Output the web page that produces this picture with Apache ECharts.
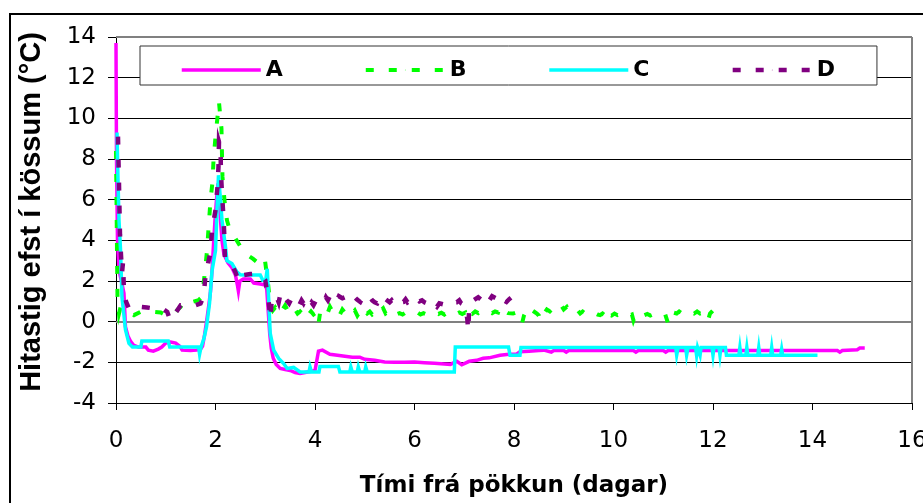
<!DOCTYPE html>
<html>
<head>
<meta charset="utf-8">
<script src="https://cdn.jsdelivr.net/npm/echarts@6/dist/echarts.min.js"></script>
<style>
  html, body { margin: 0; padding: 0; background: #fff; }
  #chart { width: 923px; height: 503px; }
</style>
</head>
<body>
<div id="chart"></div>
<script>
// Temperature at top of boxes after packing, four loggers (days, °C)
const seriesNames = ['A', 'B', 'C', 'D'];
const xTicks = { min: 0, max: 16, step: 2 };
const yTicks = { min: -4, max: 14, step: 2 };

const tempA = [
  [0, 13.7], [0.01, 8.0], [0.03, 4.0], [0.06, 2.5], [0.1, 2.1], [0.16, 1.4], [0.19, -0.25], [0.24, -0.7],
  [0.29, -0.95], [0.35, -1.15], [0.45, -1.25], [0.6, -1.25], [0.65, -1.4], [0.75, -1.45], [0.85, -1.35],
  [0.92, -1.25], [1.0, -1.05], [1.1, -1.0], [1.2, -1.05], [1.28, -1.2], [1.33, -1.4], [1.5, -1.42],
  [1.62, -1.4], [1.7, -1.35], [1.74, -1.2], [1.78, -0.65], [1.82, 0], [1.87, 0.9], [1.9, 1.5], [1.93, 2.5],
  [1.96, 3.8], [1.99, 5.0], [2.02, 6.0], [2.05, 6.8], [2.08, 6.0], [2.1, 5.0], [2.13, 4.0], [2.17, 3.3],
  [2.25, 2.9], [2.33, 2.65], [2.4, 2.3], [2.44, 1.8], [2.46, 1.5], [2.49, 2.0], [2.56, 2.1], [2.7, 2.1],
  [2.77, 1.9], [2.9, 1.85], [3.0, 1.8], [3.03, 1.6], [3.06, 0.5], [3.09, -0.6], [3.12, -1.3], [3.16, -1.8],
  [3.22, -2.1], [3.3, -2.3], [3.4, -2.35], [3.5, -2.4], [3.6, -2.5], [3.7, -2.55], [3.8, -2.5], [3.9, -2.45],
  [4.0, -2.4], [4.04, -2.4], [4.07, -1.45], [4.15, -1.4], [4.3, -1.6], [4.45, -1.65], [4.6, -1.7],
  [4.75, -1.75], [4.9, -1.75], [5.0, -1.85], [5.2, -1.9], [5.4, -1.98], [5.6, -2.0], [5.8, -2.0],
  [6.0, -1.98], [6.2, -2.02], [6.4, -2.05], [6.6, -2.08], [6.72, -2.1], [6.85, -1.95], [6.95, -2.12],
  [7.1, -1.95], [7.25, -1.9], [7.38, -1.8], [7.5, -1.78], [7.72, -1.65], [7.9, -1.6], [8.05, -1.6],
  [8.12, -1.48], [8.3, -1.45], [8.5, -1.42], [8.6, -1.4], [8.75, -1.5], [8.8, -1.42], [9.0, -1.42],
  [9.05, -1.5], [9.1, -1.42], [10.4, -1.42], [10.45, -1.5], [10.5, -1.42], [11.0, -1.42], [11.05, -1.5],
  [11.1, -1.42], [14.5, -1.42], [14.55, -1.5], [14.6, -1.42], [14.9, -1.38], [14.95, -1.3], [15.05, -1.3]
];

const tempB = [
  [0, 8.4], [0.01, 6.0], [0.02, 3.5], [0.03, 1.2], [0.06, 0.4], [0.09, 0.7], [0.12, 0.73], [0.17, 0.5],
  [0.25, 0.45], [0.36, 0.32], [0.49, 0.48], [0.62, 0.5], [0.76, 0.48], [0.9, 0.45], [1.0, 0.32],
  [1.13, 0.32], [1.23, 0.57], [1.3, 0.73], [1.4, 1.06], [1.53, 0.97], [1.66, 1.06], [1.73, 1.22],
  [1.78, 2.29], [1.83, 3.5], [1.86, 4.6], [1.9, 5.98], [1.94, 6.88], [1.96, 7.94], [2.0, 9.09],
  [2.05, 10.3], [2.07, 10.8], [2.1, 10.0], [2.12, 9.5], [2.13, 8.27], [2.14, 7.12], [2.18, 5.98],
  [2.23, 4.99], [2.3, 4.4], [2.4, 4.1], [2.5, 3.7], [2.63, 3.3], [2.75, 3.1], [2.85, 2.9], [2.93, 2.86],
  [2.99, 3.1], [3.03, 3.1], [3.06, 1.8],
  [3.1, 0.8], [3.15, 0.55], [3.2, 0.7], [3.25, 0.5], [3.3, 0.75], [3.35, 0.6], [3.4, 0.8], [3.45, 0.55],
  [3.5, 0.65], [3.55, 0.45], [3.6, 0.6], [3.65, 0.4], [3.7, 0.5], [3.77, 0.32], [3.82, 0.55], [3.87, 0.35],
  [3.92, 0.5], [3.97, 0.35], [4.02, 0.45], [4.07, -0.1], [4.1, 0.4], [4.15, 0.3], [4.2, 0.55], [4.25, 0.4],
  [4.3, 0.73], [4.35, 0.5], [4.4, 0.4], [4.45, 0.55], [4.5, 0.35], [4.55, 0.6], [4.6, 0.45], [4.65, 0.5],
  [4.7, 0.6], [4.75, 0.4], [4.8, 0.55], [4.85, 0.3], [4.9, 0.5], [4.95, 0.35], [5.0, 0.55], [5.05, 0.4],
  [5.1, 0.5], [5.15, 0.35], [5.2, 0.45], [5.25, 0.3], [5.3, 0.5], [5.37, 0.66], [5.42, 0.4], [5.48, 0.5],
  [5.53, 0.35], [5.58, 0.45], [5.63, 0.35], [5.7, 0.42], [5.76, 0.35], [5.82, 0.45], [5.88, 0.38],
  [5.95, 0.45], [6.0, 0.38], [6.06, 0.45], [6.12, 0.35], [6.18, 0.42], [6.24, 0.36], [6.3, 0.43],
  [6.36, 0.35], [6.42, 0.45], [6.48, 0.38], [6.54, 0.44], [6.6, 0.35], [6.66, 0.45], [6.72, 0.4],
  [6.78, 0.5], [6.84, 0.38], [6.9, 0.45], [6.96, 0.38], [7.02, 0.45], [7.05, 0.17], [7.1, 0.45],
  [7.16, 0.38], [7.22, 0.5], [7.28, 0.42], [7.34, 0.55], [7.38, 0.57], [7.44, 0.45], [7.5, 0.5],
  [7.56, 0.42], [7.62, 0.5], [7.68, 0.45], [7.72, 0.73], [7.76, 0.55], [7.82, 0.5], [7.88, 0.42],
  [7.92, 0.48], [7.98, 0.4], [8.04, 0.45], [8.08, 0.32], [8.12, 0.35], [8.16, -0.1], [8.2, 0.3],
  [8.25, 0.55], [8.29, 0.73], [8.34, 0.6], [8.4, 0.5], [8.46, 0.4], [8.5, 0.3], [8.52, 0.07], [8.56, 0.35],
  [8.62, 0.45], [8.66, 0.6], [8.72, 0.5], [8.78, 0.65], [8.84, 0.55], [8.9, 0.7], [8.95, 0.8], [9.0, 0.6],
  [9.06, 0.73], [9.1, 0.55], [9.16, 0.62], [9.22, 0.48], [9.28, 0.55], [9.33, 0.4], [9.38, 0.5],
  [9.44, 0.38], [9.5, 0.45], [9.56, 0.35], [9.62, 0.42], [9.68, 0.35], [9.73, 0.32], [9.78, 0.4],
  [9.83, 0.3], [9.86, 0.07], [9.9, 0.35], [9.96, 0.3], [10.02, 0.4], [10.08, 0.32], [10.14, 0.38],
  [10.2, 0.32], [10.26, 0.4], [10.32, 0.3], [10.37, 0.35], [10.4, 0.07], [10.44, 0.35], [10.5, 0.3],
  [10.56, 0.4], [10.62, 0.32], [10.68, 0.38], [10.74, 0.3], [10.8, 0.36], [10.86, 0.3], [10.92, 0.38],
  [10.98, 0.3], [11.04, 0.35], [11.1, -0.1], [11.14, 0.3], [11.2, 0.45], [11.27, 0.4], [11.32, 0.5],
  [11.38, 0.4], [11.44, 0.48], [11.5, 0.4], [11.56, 0.48], [11.62, 0.4], [11.68, 0.5], [11.74, 0.4],
  [11.8, 0.45], [11.86, 0.35], [11.9, 0.07], [11.94, 0.4], [11.98, 0.5], [12.02, 0.45], [12.04, 0.65],
  [12.07, 0.75]
];

const tempC = [
  [0.02, 9.3], [0.04, 7.0], [0.06, 5.0], [0.09, 3.6], [0.12, 1.2], [0.16, 0.3], [0.19, -0.4], [0.26, -1.07],
  [0.33, -1.24], [0.5, -1.24], [0.52, -0.95], [1.05, -0.95], [1.08, -1.24], [1.66, -1.24], [1.68, -1.6],
  [1.71, -1.24], [1.77, -0.8], [1.82, -0.25], [1.88, 0.9], [1.93, 2.5], [2.0, 3.5], [2.03, 5.5], [2.06, 7.2],
  [2.1, 6.0], [2.13, 5.0], [2.2, 3.7], [2.23, 3.0], [2.33, 2.86], [2.43, 2.45], [2.5, 2.3], [2.57, 2.29],
  [2.9, 2.29], [2.95, 2.04], [3.01, 2.04], [3.04, 2.6], [3.07, 1.06], [3.1, -0.58], [3.17, -1.4],
  [3.27, -1.81], [3.37, -2.06], [3.44, -2.3], [3.57, -2.25], [3.7, -2.47], [3.88, -2.47], [3.9, -2.22],
  [3.93, -2.47], [4.08, -2.47], [4.1, -2.2], [4.47, -2.2], [4.5, -2.47], [4.7, -2.47], [4.72, -2.22],
  [4.75, -2.47], [4.85, -2.47], [4.87, -2.22], [4.9, -2.47], [5.0, -2.47], [5.02, -2.22], [5.05, -2.47],
  [6.8, -2.47], [6.82, -1.24], [7.89, -1.24], [7.92, -1.65], [8.12, -1.65], [8.14, -1.27], [11.25, -1.27],
  [11.27, -1.65], [11.3, -1.27], [11.45, -1.27], [11.47, -1.65], [11.5, -1.27], [11.65, -1.27],
  [11.67, -1.65], [11.69, -1.27], [11.72, -1.27], [11.74, -1.65], [11.76, -1.27], [11.98, -1.27],
  [12.0, -1.65], [12.02, -1.27], [12.12, -1.27], [12.14, -1.65], [12.16, -1.27], [12.25, -1.27],
  [12.27, -1.65], [12.52, -1.65], [12.54, -1.27], [12.56, -1.65], [12.66, -1.65], [12.68, -1.27],
  [12.7, -1.65], [12.9, -1.65], [12.92, -1.27], [12.94, -1.65], [13.16, -1.65], [13.18, -1.27],
  [13.2, -1.65], [13.36, -1.65], [13.38, -1.35], [13.4, -1.65], [14.1, -1.65]
];

const tempD = [
  [0.04, 9.1], [0.05, 7.9], [0.06, 6.8], [0.07, 5.5], [0.08, 4.3], [0.1, 3.3], [0.12, 2.4], [0.14, 2.9],
  [0.16, 1.55], [0.2, 1.0], [0.26, 0.65], [0.36, 0.57], [0.49, 0.73], [0.62, 0.7], [0.76, 0.65],
  [0.93, 0.65], [1.03, 0.48], [1.09, 0.07], [1.19, 0.4], [1.3, 0.81], [1.43, 0.81], [1.6, 0.81], [1.7, 0.9],
  [1.76, 1.22], [1.8, 2.29], [1.9, 3.43], [1.93, 4.5], [2.0, 5.48], [2.04, 6.63], [2.06, 7.62], [2.07, 8.85],
  [2.1, 8.6], [2.11, 7.3], [2.13, 6.3], [2.16, 5.15], [2.18, 4.09], [2.19, 3.1], [2.23, 3.0], [2.33, 2.78],
  [2.4, 2.45], [2.47, 1.96], [2.57, 2.29], [2.7, 2.34], [2.84, 2.37], [2.95, 2.2], [3.0, 2.04], [3.07, 0.97],
  [3.1, 0.16], [3.13, 1.0], [3.17, 1.06], [3.2, 0.85], [3.24, 1.15], [3.27, 0.95], [3.3, 1.3], [3.33, 1.0],
  [3.37, 0.97], [3.4, 1.15], [3.44, 1.06], [3.48, 0.9], [3.52, 1.1], [3.57, 1.22], [3.61, 0.95], [3.65, 1.0],
  [3.69, 0.85], [3.73, 1.05], [3.77, 0.9], [3.81, 1.1], [3.85, 1.05], [3.89, 0.8], [3.93, 0.95],
  [3.97, 0.81], [4.01, 1.0], [4.05, 0.95], [4.09, 1.1], [4.14, 1.06], [4.18, 0.95], [4.22, 1.2],
  [4.26, 1.05], [4.31, 1.3], [4.35, 1.15], [4.4, 1.2], [4.44, 1.05], [4.48, 1.25], [4.51, 1.3], [4.55, 1.15],
  [4.6, 1.2], [4.64, 1.1], [4.68, 1.3], [4.71, 1.39], [4.75, 1.25], [4.8, 1.2], [4.84, 1.1], [4.88, 1.05],
  [4.91, 0.97], [4.95, 1.15], [4.98, 1.1], [5.01, 1.25], [5.04, 1.22], [5.08, 1.05], [5.12, 1.15],
  [5.15, 1.05], [5.2, 0.95], [5.25, 0.9], [5.28, 1.05], [5.32, 1.15], [5.35, 1.3], [5.38, 1.39],
  [5.42, 1.1], [5.46, 1.1], [5.5, 0.95], [5.54, 1.05], [5.58, 0.9], [5.62, 1.05], [5.68, 1.05],
  [5.72, 0.95], [5.78, 0.97], [5.82, 1.1], [5.86, 0.95], [5.9, 1.0], [5.95, 1.1], [6.0, 1.0], [6.05, 1.14],
  [6.1, 1.0], [6.15, 1.05], [6.2, 0.95], [6.25, 0.9], [6.3, 1.05], [6.35, 0.95], [6.4, 0.85], [6.45, 0.73],
  [6.5, 0.9], [6.54, 0.95], [6.58, 0.85], [6.62, 0.9], [6.67, 0.8], [6.72, 0.81], [6.76, 0.95], [6.8, 0.9],
  [6.85, 0.95], [6.9, 1.05], [6.94, 0.9], [6.98, 0.97], [7.02, 0.8], [7.04, 0.4], [7.06, 0.16],
  [7.08, -0.42], [7.1, 0.73], [7.14, 0.95], [7.19, 1.06], [7.23, 1.15], [7.28, 1.2], [7.33, 1.1],
  [7.38, 1.3], [7.42, 1.15], [7.45, 1.2], [7.49, 1.0], [7.52, 1.06], [7.56, 1.25], [7.6, 1.3], [7.64, 1.15],
  [7.68, 1.35], [7.72, 1.39], [7.75, 1.2], [7.79, 1.06], [7.82, 1.15], [7.85, 0.97], [7.9, 1.1],
  [7.95, 1.2], [8.0, 1.3], [8.05, 1.14]
];

const LABEL_FONT = 'DejaVu Sans';
const dash = [8, 15];

function lineSeries(name, data, color, width, type) {
  return {
    name: name,
    type: 'line',
    data: data,
    showSymbol: false,
    symbol: 'none',
    smooth: false,
    animation: false,
    emphasis: { disabled: true },
    lineStyle: { color: color, width: width, type: type, cap: 'butt', join: 'miter' },
    itemStyle: { color: color },
    z: 2
  };
}

const series = [
  lineSeries(seriesNames[0], tempA, '#FF00FF', 3.5, 'solid'),
  lineSeries(seriesNames[1], tempB, '#00FF00', 4, dash),
  lineSeries(seriesNames[2], tempC, '#00FFFF', 3.5, 'solid'),
  lineSeries(seriesNames[3], tempD, '#800080', 4.5, dash)
];

// zero line and the grey top/right frame of the plot area
series[0].markLine = {
  silent: true,
  symbol: 'none',
  z: 1,
  animation: false,
  label: { show: false },
  emphasis: { disabled: true },
  lineStyle: { color: '#808080', width: 2, type: 'solid' },
  data: [{ yAxis: 0 }, { yAxis: yTicks.max }, { xAxis: xTicks.max }]
};

const chart = echarts.init(document.getElementById('chart'), null, { renderer: 'canvas' });
chart.setOption({
  animation: false,
  backgroundColor: '#fff',
  grid: { left: 116, right: 11, top: 37, bottom: 100, containLabel: false, outerBoundsMode: 'none' },
  legend: {
    data: seriesNames,
    left: 140,
    top: 46,
    orient: 'horizontal',
    padding: [13, 42, 4, 40],
    itemWidth: 79,
    itemHeight: 1,
    itemGap: 81,
    backgroundColor: '#fff',
    borderColor: '#333',
    borderWidth: 1,
    selectedMode: false,
    lineStyle: { width: 'inherit', type: 'inherit', cap: 'butt' },
    textStyle: { fontFamily: LABEL_FONT, fontWeight: 'bold', fontSize: 22, color: '#000', lineHeight: 22 }
  },
  xAxis: {
    type: 'value',
    min: xTicks.min,
    max: xTicks.max,
    interval: xTicks.step,
    name: 'Tími frá pökkun (dagar)',
    nameLocation: 'middle',
    nameGap: 72,
    nameTextStyle: { fontFamily: LABEL_FONT, fontWeight: 'bold', fontSize: 23, color: '#000' },
    axisLine: { show: true, onZero: false, lineStyle: { color: '#000', width: 1 } },
    axisTick: { show: true, inside: false, length: 7, lineStyle: { color: '#000', width: 1 } },
    axisLabel: { fontFamily: LABEL_FONT, fontSize: 23, color: '#000', margin: 27, showMinLabel: true, showMaxLabel: true },
    splitLine: { show: false }
  },
  yAxis: {
    type: 'value',
    min: yTicks.min,
    max: yTicks.max,
    interval: yTicks.step,
    axisLine: { show: true, onZero: false, lineStyle: { color: '#000', width: 1 } },
    axisTick: { show: true, inside: false, length: 8, lineStyle: { color: '#000', width: 1 } },
    axisLabel: { fontFamily: LABEL_FONT, fontSize: 23, color: '#000', margin: 20 },
    splitLine: { show: true, lineStyle: { color: '#000', width: 1 } }
  },
  graphic: [
    {
      type: 'rect',
      z: 0,
      silent: true,
      shape: { x: 10, y: 14, width: 1000, height: 1000 },
      style: { fill: 'none', stroke: '#000', lineWidth: 2 }
    },
    {
      type: 'text',
      silent: true,
      x: 32,
      y: 212,
      rotation: Math.PI / 2,
      style: {
        text: 'Hitastig efst í kössum (°C)',
        fontFamily: 'Liberation Sans',
        fontWeight: 'bold',
        fontSize: 29,
        fill: '#000',
        align: 'center',
        verticalAlign: 'middle'
      }
    }
  ],
  series: series
});
</script>
</body>
</html>
